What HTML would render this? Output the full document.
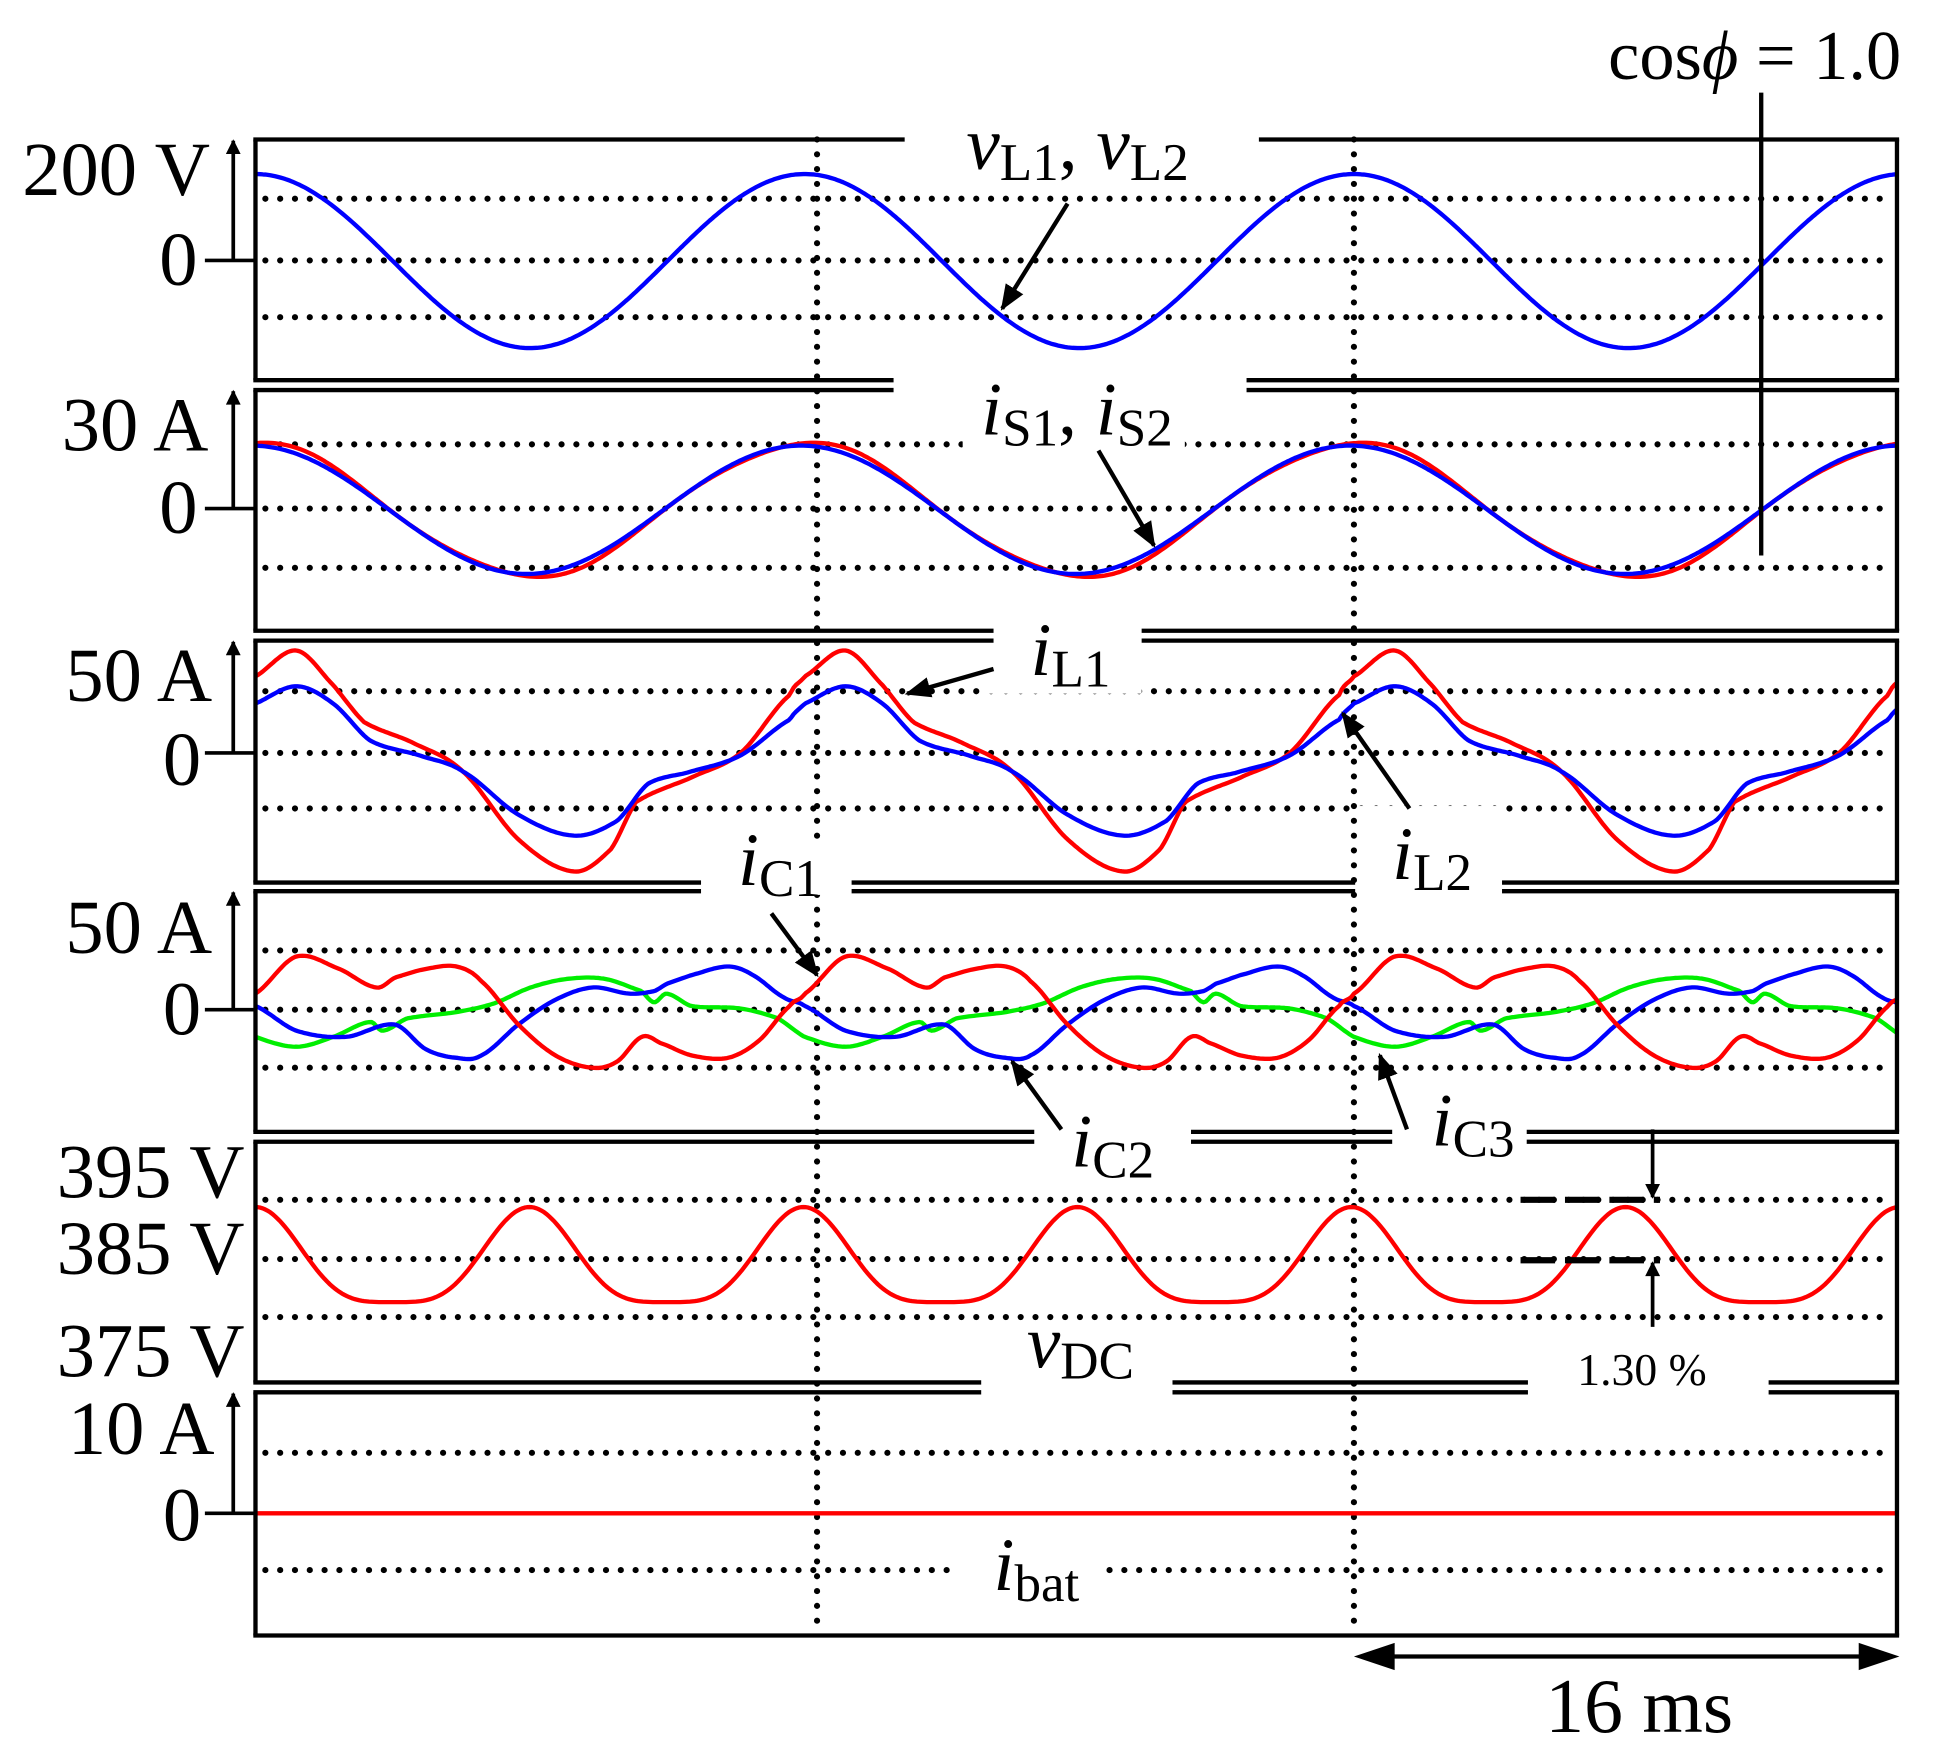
<!DOCTYPE html>
<html><head><meta charset="utf-8"><style>
html,body{margin:0;padding:0;background:#fff}
svg{display:block}
text{font-family:"Liberation Serif",serif;fill:#000}
.it{font-style:italic}
</style></head><body>
<svg id="s" width="1934" height="1754" viewBox="0 0 1567 1421" preserveAspectRatio="none" xmlns="http://www.w3.org/2000/svg">
<defs><marker id="ah" viewBox="0 0 10 10" refX="9" refY="5" markerWidth="6" markerHeight="6" orient="auto" markerUnits="strokeWidth"><path d="M0,1 L10,5 L0,9 z" fill="#000"/></marker>
<marker id="ah2" viewBox="0 0 10 10" refX="9" refY="5" markerWidth="6" markerHeight="4" orient="auto" markerUnits="strokeWidth"><path d="M0,0 L10,5 L0,10 z" fill="#000"/></marker></defs>
<g id="g"></g>
</svg>
<script>
var g=document.getElementById('g'),NS="http://www.w3.org/2000/svg";
function el(t,a,txt){var e=document.createElementNS(NS,t);for(var k in a)e.setAttribute(k,a[k]);if(txt!==undefined)e.innerHTML=txt;g.appendChild(e);return e;}
function line(x1,y1,x2,y2,w,extra){var a={x1:x1,y1:y1,x2:x2,y2:y2,stroke:'#000','stroke-width':w||3};for(var k in extra)a[k]=extra[k];return el('line',a);}
function dot(x1,x2,y){line(x1,y,x2,y,5,{'stroke-dasharray':'0 12','stroke-linecap':'round'});}
function vdot(x,y1,y2){line(x,y1,x,y2,5,{'stroke-dasharray':'0 12','stroke-linecap':'round'});}
var X0=207,X1=1537,P=445;
var panels=[[113,308,[161,211,257],211,[[733,1020]]],[316,511,[360,412,460],412,[[724,1010]]],[519,715,[560,610,655],610,[[805,925]]],[722,917,[770,818,865],818,[[568,690],[1098,1217]]],[925,1120,[972,1020,1067],null,[[838,965],[1128,1237]]],[1128,1325,[1177,1272],1226,[[795,950],[1238,1433]]]];
panels.forEach(function(p){p[2].forEach(function(y){dot(X0+8,X1-4,y);});});
vdot(662,113,1325);vdot(1097,113,1325);
function path(f,col,w){var d='';for(var x=X0;x<=X1;x+=2){d+=(x==X0?'M':'L')+x+','+f(x).toFixed(1);}el('path',{d:d,fill:'none',stroke:col,'stroke-width':w||3.5,'stroke-linejoin':'round'});}
function cr(pts){var n=pts.length;return function(x){var t=((x-X0)%P+P)%P+X0;var i=0;while(i<n-1&&pts[i+1][0]<=t)i++;
 var p0=pts[(i-1+n)%n],p1=pts[i],p2=pts[(i+1)%n],p3=pts[(i+2)%n];
 var x1=p1[0],x2=(i+1<n)?p2[0]:p2[0]+P;var u=(t-x1)/(x2-x1);
 var y0=p0[1],y1=p1[1],y2=p2[1],y3=p3[1];
 return 0.5*((2*y1)+(-y0+y2)*u+(2*y0-5*y1+4*y2-y3)*u*u+(-y0+3*y1-3*y2+y3)*u*u*u);};}
var TP=2*Math.PI;
path(function(x){return 211.5-70.5*Math.cos(TP*(x-X0)/P)},'#f00',2.5);
path(function(x){return 211.5-70.5*Math.cos(TP*(x-X0)/P)},'#00f',3.5);
path(function(x){var t=TP*(x-X0)/P;return 413-54*Math.cos(t)-2*Math.sin(3*t)},'#f00',3.5);
path(function(x){var t=TP*(x-X0+3)/P;return 413-52*Math.cos(t)},'#00f',3.5);
var r3=cr([[207,548],[240,527],[270,555],[295,585],[335,602],[375,625],[420,680],[465,706],[495,688],[515,650],[560,630],[600,610],[640,563]]);
var b3=cr([[207,570],[240,556],[270,570],[300,600],[340,612],[375,625],[420,660],[465,677],[500,665],[525,635],[560,625],[600,612],[640,583]]);
path(r3,'#f00');path(b3,'#00f');
var r4=cr([[207,805],[240,775],[275,785],[305,800],[320,792],[345,785],[370,783],[390,795],[420,830],[450,855],[480,865],[500,860],[520,840],[535,845],[560,855],[590,857],[615,843],[640,815]]);
var b4=cr([[207,815],[240,835],[280,840],[320,830],[345,850],[370,857],[390,855],[420,830],[450,810],[480,800],[510,805],[530,803],[540,797],[560,790],[590,783],[610,790],[635,808]]);
var g4=cr([[207,840],[240,848],[270,840],[300,828],[310,835],[330,825],[370,820],[400,813],[430,800],[460,793],[490,793],[520,803],[530,812],[540,805],[560,815],[600,817],[630,825]]);
path(g4,'#0e0');path(b4,'#00f');path(r4,'#f00');
path(function(x){var t=TP*(x-X0)/222;return 1026-38.5*Math.cos(t)-9.6*Math.cos(2*t)},'#f00');
line(X0,1226,X1,1226,3.5,{stroke:'#f00'});
[[725,118,300,40],[780,322,180,45],[800,520,125,42],[565,685,125,40],[1100,653,115,70],[838,918,125,50],[1130,895,105,45],[795,1075,150,50],[1240,1090,190,40],[775,1250,115,55]].forEach(function(r){el('rect',{x:r[0],y:r[1],width:r[2],height:r[3],fill:'#fff'});});
function hgap(y,gaps){var xs=X0-1.75;gaps.forEach(function(gp){line(xs,y,gp[0],y,3.5);xs=gp[1];});line(xs,y,X1+1.75,y,3.5);}
panels.forEach(function(p,i){var t=p[0],b=p[1];line(X0,t,X0,b,3.5);line(X1,t,X1,b,3.5);
 hgap(b,i<panels.length-1?panels[i+1][4]:[]);hgap(t,p[4]);});
[[211,114,'200 V',18,158],[412,317,'30 A',50,365],[610,520,'50 A',53,568],[818,723,'50 A',53,772],[1226,1129,'10 A',55,1178]].forEach(function(a){
 line(189,a[0],189,a[1],3,{'marker-end':'url(#ah2)'});line(166,a[0],207,a[0],3);
 el('text',{x:a[3],y:a[4],'font-size':62},a[2]);});
[[129,231],[129,432],[132,636],[132,838],[132,1248]].forEach(function(p){el('text',{x:p[0],y:p[1],'font-size':62},'0');});
el('text',{x:46,y:970,'font-size':62},'395 V');el('text',{x:46,y:1032,'font-size':62},'385 V');el('text',{x:46,y:1115,'font-size':62},'375 V');
el('text',{x:1303,y:64,'font-size':57},'cos<tspan class="it">ϕ</tspan> = 1.0');
line(1427,75,1427,450,3.5);
var S='font-size="43" dy="9"';
el('text',{x:783,y:137,'font-size':61},'<tspan class="it">v</tspan><tspan '+S+'>L1</tspan><tspan dy="-9">, </tspan><tspan class="it">v</tspan><tspan '+S+'>L2</tspan>');
el('text',{x:795,y:352,'font-size':61},'<tspan class="it">i</tspan><tspan '+S+'>S1</tspan><tspan dy="-9">, </tspan><tspan class="it">i</tspan><tspan '+S+'>S2</tspan>');
el('text',{x:835,y:547,'font-size':61},'<tspan class="it">i</tspan><tspan '+S+'>L1</tspan>');
el('text',{x:598,y:717,'font-size':61},'<tspan class="it">i</tspan><tspan '+S+'>C1</tspan>');
el('text',{x:1128,y:712,'font-size':61},'<tspan class="it">i</tspan><tspan '+S+'>L2</tspan>');
el('text',{x:868,y:945,'font-size':61},'<tspan class="it">i</tspan><tspan '+S+'>C2</tspan>');
el('text',{x:1160,y:928,'font-size':61},'<tspan class="it">i</tspan><tspan '+S+'>C3</tspan>');
el('text',{x:832,y:1108,'font-size':61},'<tspan class="it">v</tspan><tspan '+S+'>DC</tspan>');
el('text',{x:1278,y:1122,'font-size':37},'1.30 %');
el('text',{x:805,y:1288,'font-size':61},'<tspan class="it">i</tspan><tspan '+S+'>bat</tspan>');
[[865,165,812,250],[890,365,935,442],[805,542,735,562],[1142,655,1088,578],[625,740,662,790],[860,915,820,860],[1140,915,1118,855]].forEach(function(a){line(a[0],a[1],a[2],a[3],3.5,{'marker-end':'url(#ah)'});});
line(1232,972,1345,972,5,{'stroke-dasharray':'28 8'});line(1232,1021,1345,1021,5,{'stroke-dasharray':'28 8'});
line(1339,915,1339,970,3,{'marker-end':'url(#ah2)'});line(1339,1075,1339,1023,3,{'marker-end':'url(#ah2)'});
line(1125,1342,1510,1342,3.5);
el('path',{d:'M1097,1342 L1130,1331 L1130,1353 z',fill:'#000'});el('path',{d:'M1539,1342 L1506,1331 L1506,1353 z',fill:'#000'});
el('text',{x:1252,y:1403,'font-size':63},'16 ms');
</script>
</body></html>
